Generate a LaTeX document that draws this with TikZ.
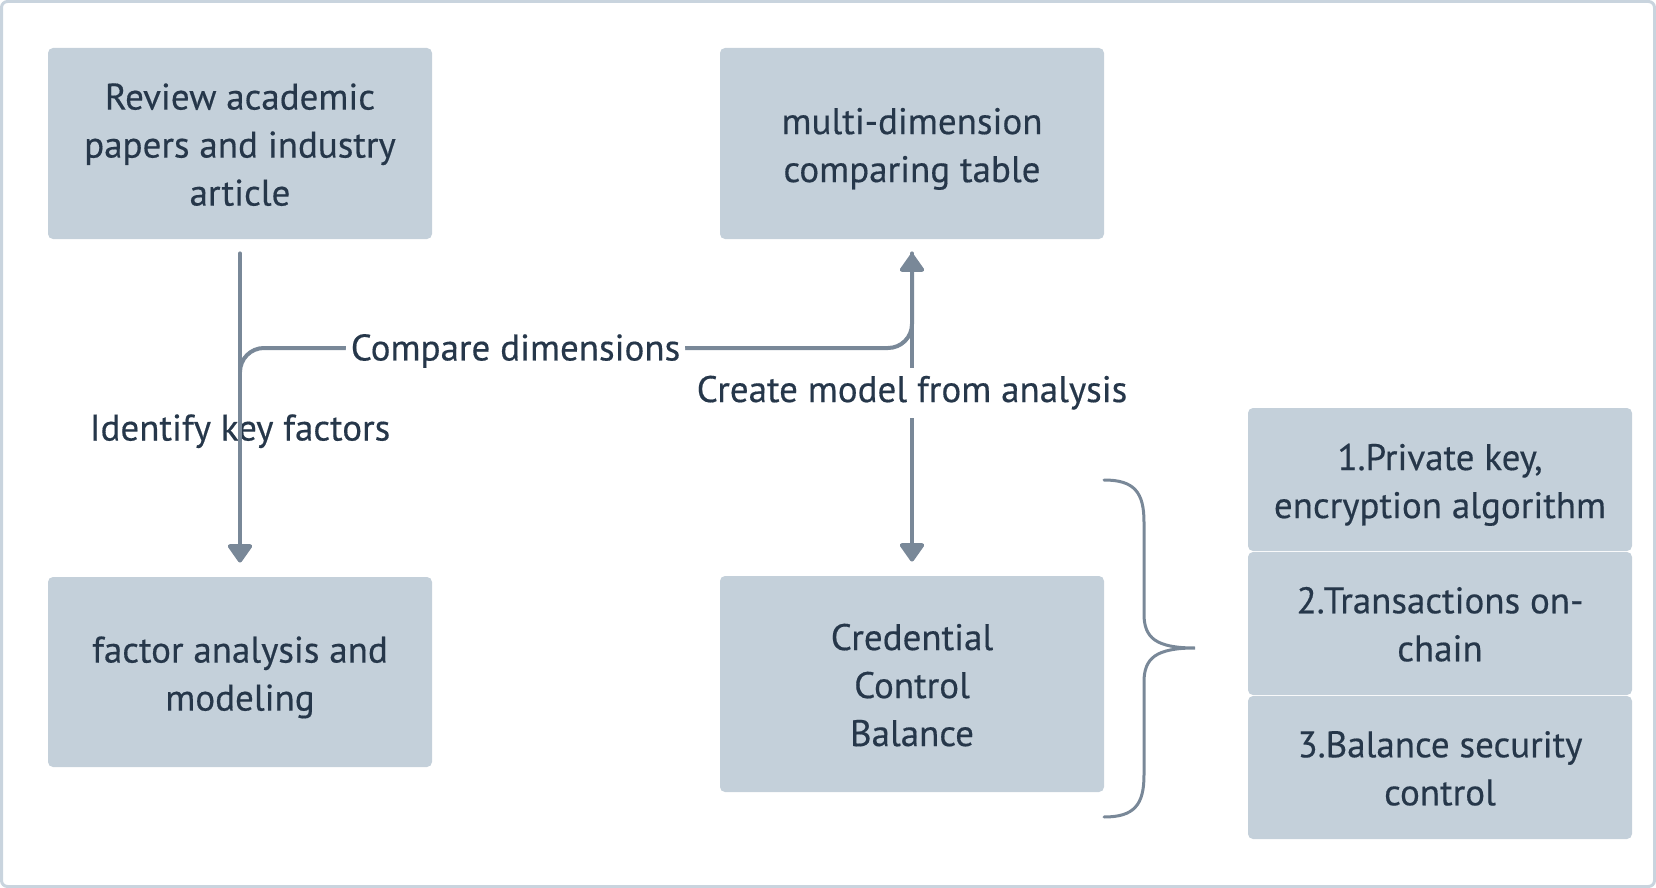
\documentclass[tikz,border=0pt]{standalone}
\usepackage{fontspec}
\setmainfont{PT Sans}[FakeBold=0.4]
\usetikzlibrary{arrows.meta}
\definecolor{boxfill}{HTML}{C4D0DA}
\definecolor{linegray}{HTML}{798898}
\definecolor{textnavy}{HTML}{26374A}
\definecolor{framegray}{HTML}{C9D4DE}

\begin{document}
\begin{tikzpicture}[x=0.5pt,y=-0.5pt,line cap=round]
            \tikzstyle{box}   = [rectangle, rounded corners=2.5pt, fill=boxfill, text=textnavy, align=center, minimum width=192pt, inner sep=0pt, text height=42.5pt, font=\fontsize{18.5}{24}\selectfont]
            \tikzstyle{tall}  = [text height=62.3pt]
            \tikzstyle{low}   = [text height=38pt]
            \tikzstyle{conn}  = [line width=2pt, draw=linegray, -{Triangle[width=13.5pt,length=10pt,round]}, shorten >=7pt, shorten <=7pt]
            \tikzstyle{lbl}   = [text=textnavy, inner xsep=2.5pt, inner ysep=4pt, yshift=-1.5pt, font=\fontsize{18.5}{24}\selectfont]
            \tikzstyle{brace} = [line width=1.5pt, draw=linegray]

            \useasboundingbox (0,0) rectangle (1656,888);
            \draw[framegray, line width=1.5pt, rounded corners=3pt] (1.5,1.5) rectangle (1654.5,886.5);

            % Boxes .........................
            \node[box, tall, minimum height=95.5pt] (review) at (240,143.5) {Review academic\\papers and industry\\article};
            \node[box, minimum height=95.5pt] (table)  at (912,143.5) {multi-dimension\\comparing table};
            \node[box, minimum height=95pt]   (factor) at (240,672)   {factor analysis and\\modeling};
            \node[box, tall, minimum height=108pt]  (cred)   at (912,684)   {Credential\\Control\\Balance};

            % Parts of the balance .........................
            \node[box, minimum height=71.5pt] (key)        at (1440,479.5) {1.Private key,\\encryption algorithm};
            \node[box, low, minimum height=71.5pt] (chain) at (1440,623.5) {2.Transactions on-\\chain};
            \node[box, low, minimum height=71.5pt] (sec)   at (1440,767.5) {3.Balance security\\control};

            \coordinate (fork) at (240,372);
            \coordinate (bend) at (912,348);

            \draw[conn] (review) -- node[lbl, behind path, pos=0.56] (ident) {Identify key factors} (factor);
            \draw[conn, shorten <=0pt, rounded corners=12pt] (fork) |- node[lbl, fill=white, pos=0.705] (cmp) {Compare dimensions} (bend) -- (table);
            \draw[conn] (table) -- node[lbl, fill=white, pos=0.447] (model) {Create model from analysis} (cred);

            \draw[brace] (1104,480) .. controls (1134,480) and (1144,492) .. (1144,522) -- (1144,614)
                .. controls (1144,638) and (1156,648) .. (1195,648)
                .. controls (1156,648) and (1144,658) .. (1144,682) -- (1144,775)
                .. controls (1144,805) and (1134,817) .. (1104,817);

        \end{tikzpicture}
\end{document}
